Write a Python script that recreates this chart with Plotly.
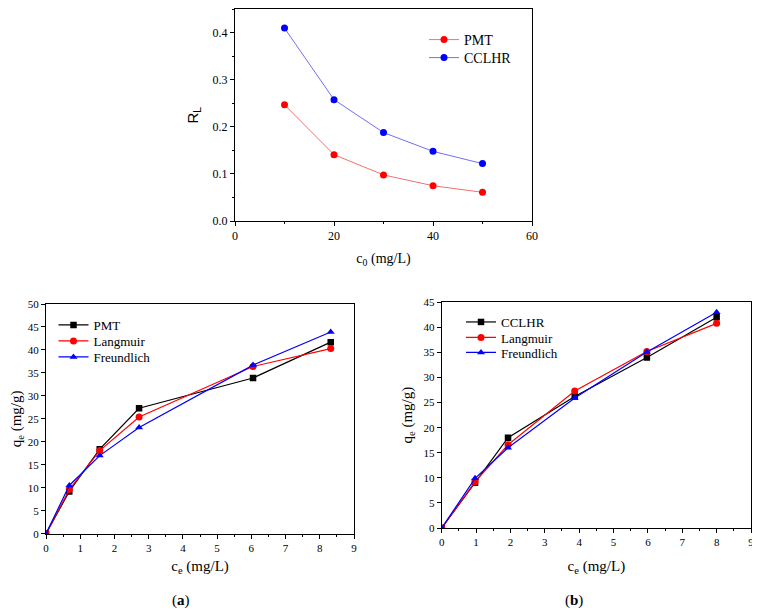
import plotly.graph_objects as go

# ---- data ----
c0 = [10, 20, 30, 40, 50]
rl_pmt = [0.247, 0.141, 0.098, 0.075, 0.061]
rl_cclhr = [0.410, 0.258, 0.188, 0.148, 0.122]

ce_pmt = [0, 0.68, 1.57, 2.72, 6.05, 8.32]
qe_pmt = [0, 9.2, 18.4, 27.3, 33.9, 41.7]
qe_pmt_lang = [0, 9.6, 18.1, 25.4, 36.4, 40.3]
qe_pmt_freu = [0, 10.5, 17.0, 23.1, 36.7, 43.9]

ce_cclhr = [0, 0.97, 1.93, 3.87, 5.97, 8.0]
qe_cclhr = [0, 9.0, 18.0, 26.2, 34.0, 42.0]
qe_cclhr_lang = [0, 9.2, 16.6, 27.3, 35.2, 40.8]
qe_cclhr_freu = [0, 9.9, 16.0, 25.9, 35.1, 43.0]

# page body has an 8px margin; figure sized to fill the rest of the window
OFF = 8
W, H = 752, 606
SERIF = "Liberation Serif"
RED, BLUE, BLACK = "#ff0000", "#0000ff", "#000000"

def px(x):
    return (x - OFF) / W

def py(y):
    return 1 - (y - OFF) / H

def xd(a, b):
    return [px(a), px(b)]

def yd(top, bottom):
    return [py(bottom), py(top)]

fig = go.Figure()

legend_specs = {}

def add(x, y, nm, col, lcol, sym, size, lw, xa, ya, leg, lx, ly, fs):
    fig.add_trace(go.Scatter(x=x, y=y, name=nm, mode="lines+markers",
                             line=dict(color=lcol, width=lw),
                             marker=dict(color=col, size=size, symbol=sym),
                             xaxis=xa, yaxis=ya, legend=leg, showlegend=True))
    legend_specs[leg] = dict(x=px(lx - 40), y=py(ly), xanchor="left", yanchor="middle",
                             bgcolor="rgba(0,0,0,0)", font=dict(family=SERIF, size=fs))

# top chart
add(c0, rl_pmt, "PMT", RED, "#f07070", "circle", 7, 1, "x", "y", "legend", 464, 40, 14)
add(c0, rl_cclhr, "CCLHR", BLUE, "#7070f0", "circle", 7, 1, "x", "y", "legend2", 464, 58, 14)

# bottom left
add(ce_pmt, qe_pmt, "PMT", BLACK, BLACK, "square", 6.5, 1.2, "x2", "y2", "legend3", 93.5, 325, 13)
add(ce_pmt, qe_pmt_lang, "Langmuir", RED, RED, "circle", 7, 1.2, "x2", "y2", "legend4", 93.5, 341, 13)
add(ce_pmt, qe_pmt_freu, "Freundlich", BLUE, BLUE, "triangle-up", 7, 1.2, "x2", "y2", "legend5", 93.5, 357, 13)

# bottom right
add(ce_cclhr, qe_cclhr, "CCLHR", BLACK, BLACK, "square", 6.5, 1.2, "x3", "y3", "legend6", 501, 322, 13)
add(ce_cclhr, qe_cclhr_lang, "Langmuir", RED, RED, "circle", 7, 1.2, "x3", "y3", "legend7", 501, 337.5, 13)
add(ce_cclhr, qe_cclhr_freu, "Freundlich", BLUE, BLUE, "triangle-up", 7, 1.2, "x3", "y3", "legend8", 501, 352.5, 13)

common = dict(showline=True, linecolor="black", linewidth=1, mirror=True,
              ticks="outside", ticklen=4, tickcolor="black", showgrid=False,
              zeroline=False, automargin=False,
              tickfont=dict(family=SERIF, size=11, color="black"))

fig.update_layout(
    template="none",
    showlegend=True,
    width=W, height=H, margin=dict(l=0, r=0, t=0, b=0),
    plot_bgcolor="white", paper_bgcolor="white",
    font=dict(family=SERIF, color="black"),
    xaxis=dict(domain=xd(235, 532), anchor="y", range=[0, 60], dtick=20,
               minor=dict(ticks="outside", ticklen=2, dtick=10, tickcolor="black"),
               title=dict(text="c<sub>0</sub> (mg/L)", font=dict(family=SERIF, size=14), standoff=10),
               **{**common, "tickfont": dict(family=SERIF, size=12, color="black")}),
    yaxis=dict(domain=yd(9.3, 221), anchor="x", range=[0, 0.45], dtick=0.1, tickformat=".1f",
               minor=dict(ticks="outside", ticklen=2, dtick=0.05, tickcolor="black"),
               title=dict(text="R<sub>L</sub>", font=dict(family="Liberation Sans", size=15), standoff=10),
               **{**common, "tickfont": dict(family=SERIF, size=12, color="black")}),
    xaxis2=dict(domain=xd(46, 354), anchor="y2", range=[0, 9], dtick=1,
                minor=dict(ticks="outside", ticklen=2, dtick=0.5, tickcolor="black"),
                title=dict(text="c<sub>e</sub> (mg/L)", font=dict(family=SERIF, size=15), standoff=7),
                **common),
    yaxis2=dict(domain=yd(304, 533.7), anchor="x2", range=[0, 50], dtick=5,
                title=dict(text="q<sub>e</sub> (mg/g)", font=dict(family=SERIF, size=15), standoff=13),
                **common),
    xaxis3=dict(domain=xd(441.7, 751), anchor="y3", range=[0, 9], dtick=1,
                minor=dict(ticks="outside", ticklen=2, dtick=0.5, tickcolor="black"),
                title=dict(text="c<sub>e</sub> (mg/L)", font=dict(family=SERIF, size=15), standoff=13),
                **common),
    yaxis3=dict(domain=yd(302.3, 528), anchor="x3", range=[0, 45], dtick=5,
                title=dict(text="q<sub>e</sub> (mg/g)", font=dict(family=SERIF, size=15), standoff=7),
                **common),
    annotations=[
        dict(text="(<b>a</b>)", x=px(181), y=py(600), xref="paper", yref="paper",
             xanchor="center", yanchor="middle",
             showarrow=False, font=dict(family=SERIF, size=15)),
        dict(text="(<b>b</b>)", x=px(574), y=py(600), xref="paper", yref="paper",
             xanchor="center", yanchor="middle",
             showarrow=False, font=dict(family=SERIF, size=15)),
    ],
)
fig.update_layout(**legend_specs)

fig.write_html("out.html")
